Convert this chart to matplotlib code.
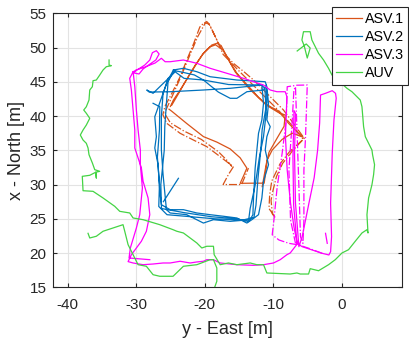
import numpy as np
import matplotlib.pyplot as plt

plt.rcParams['font.family'] = ['Liberation Sans', 'DejaVu Sans']
plt.rcParams['axes.unicode_minus'] = False

nan = np.nan

# trajectories as (east, north) in metres, NaN splits pieces

asv1_solid = [
    (-25.0, 41.4), (-24.56, 42.34), (-23.58, 43.8), (-22.37, 45.74), (-21.14, 47.7), (-20.18, 49.16),
    (-18.95, 50.37), (-18.22, 50.62), (-17.6, 50.3), (-17.0, 49.16), (-16.2, 47.7), (-15.29, 46.24),
    (-14.2, 45.0), (-13.1, 43.8), (-12.1, 42.7), (-11.15, 41.86), (-10.3, 41.3), (-9.44, 40.88),
    (-8.5, 39.9), (-7.75, 38.94), (-6.6, 37.8), (-5.6, 36.9), (-7.2, 37.5), (-8.67, 36.6),
    (-10.13, 35.04), (-10.86, 33.58), (-11.11, 31.64), (-11.3, 30.2), (-12.9, 30.2), (-14.81, 30.18),
    (-14.3, 31.3), (-13.83, 32.4), (-14.81, 33.9), (-16.27, 35.2), (-18.22, 36.2), (-20.18, 37.0),
    (-22.6, 38.9), (-24.8, 40.7), (-25.2, 41.0),
    (nan, nan),
    (-24.8, 41.6), (-23.8, 43.3), (-22.6, 45.4), (-21.4, 47.4), (-20.3, 49.0), (-19.2, 50.1),
    (-18.4, 50.4), (-17.3, 49.6), (-16.4, 48.0), (-15.5, 46.4), (-13.4, 43.9), (-11.0, 41.6),
    (-9.2, 40.5), (-8.23, 40.15), (-8.4, 38.5), (-9.4, 36.8), (-10.6, 34.7), (-11.0, 33.0),
    (-11.59, 29.69),
]

asv1_dashed = [
    (-9.7, 25.2), (-10.1, 25.7), (-10.3, 27.7), (-10.0, 29.2), (-9.5, 31.2), (-8.6, 33.1),
    (-7.1, 35.0), (-5.45, 36.75), (-7.0, 38.9), (-8.5, 40.9), (-9.9, 42.3), (-11.4, 43.8),
    (-12.9, 45.3), (-14.3, 46.5), (-15.8, 47.7), (-16.75, 48.7), (-17.7, 50.1), (-18.7, 52.1),
    (-19.4, 53.5), (-19.7, 53.8), (-20.3, 53.4), (-20.7, 53.0), (-21.6, 50.6), (-22.6, 48.2),
    (-23.6, 45.7), (-24.8, 43.3), (-25.8, 41.4), (-26.1, 40.2), (-25.53, 38.94), (-23.58, 37.48),
    (-21.64, 36.5), (-19.68, 35.53), (-17.73, 34.07), (-16.6, 33.2), (-15.8, 32.6), (-16.5, 31.5),
    (-17.3, 30.0), (-15.5, 30.0), (-14.6, 30.0), (-13.6, 32.4),
    (nan, nan),
    (-9.9, 25.5), (-10.6, 26.5), (-10.5, 28.5), (-10.2, 30.5), (-9.0, 33.0), (-7.6, 34.8),
    (-5.6, 36.6), (-7.3, 38.7), (-9.0, 40.6), (-12.0, 43.6), (-15.0, 46.6), (-17.3, 49.0),
    (-18.4, 51.5), (-19.3, 53.4), (-19.9, 53.6), (-21.0, 51.6), (-22.2, 48.8), (-23.4, 45.9),
    (-24.6, 43.2), (-25.6, 41.0), (-25.8, 40.3), (-25.0, 39.0), (-23.0, 37.8), (-20.5, 36.6),
    (-18.0, 34.8), (-16.8, 33.6), (-16.0, 32.6),
]

asv2 = [
    (-24.56, 46.72), (-23.1, 46.97), (-21.14, 46.47), (-19.2, 45.74), (-15.29, 45.26), (-11.15, 45.01),
    (-10.91, 44.28), (-10.67, 41.86), (-10.91, 39.43), (-10.42, 38.45), (-10.91, 36.99), (-11.15, 35.04),
    (-10.67, 32.9), (-11.4, 30.47), (-11.64, 28.04), (-12.13, 25.6), (-13.1, 24.87), (-13.83, 24.38),
    (-15.29, 25.12), (-17.25, 25.37), (-19.2, 25.6), (-21.14, 25.85), (-23.1, 26.33), (-25.04, 26.33),
    (-26.32, 27.06), (-26.55, 29.01), (-26.8, 32.9), (-27.28, 35.34), (-27.05, 36.99), (-27.28, 39.9),
    (-26.07, 43.32), (-25.34, 45.26), (-24.56, 46.72),
    (-24.3, 46.6), (-23.58, 46.47), (-21.5, 46.0), (-20.18, 45.26), (-16.5, 44.6), (-11.64, 44.53),
    (-11.4, 41.86), (-11.64, 39.43), (-12.13, 37.48), (-12.37, 35.04), (-12.62, 32.41), (-12.86, 28.04),
    (-12.95, 25.6), (-13.35, 24.87), (-16.27, 24.63), (-18.71, 24.87), (-20.18, 24.38), (-22.61, 25.6),
    (-25.04, 25.85), (-25.58, 26.33), (-26.07, 31.44), (-26.32, 35.04), (-26.32, 39.9), (-26.07, 43.32),
    (-25.34, 45.5), (-24.4, 46.4),
    (-25.04, 45.74), (-26.55, 44.28), (-27.53, 43.32), (-28.45, 43.8), (-28.1, 43.5), (-25.04, 43.55),
    (-20.18, 43.8), (-16.27, 44.05), (-11.64, 44.53), (-11.2, 44.0), (-11.0, 40.5), (-11.4, 37.0),
    (-12.0, 34.0), (-12.6, 30.0), (-13.35, 26.5), (-13.6, 24.6), (-15.3, 25.0), (-19.0, 25.3),
    (-23.0, 25.9), (-26.3, 26.5), (-26.4, 30.0), (-25.9, 35.0), (-25.82, 38.45), (-25.58, 41.86),
    (-25.34, 45.01), (-24.5, 46.6),
    (-23.0, 45.5), (-20.18, 45.26), (-18.0, 43.5), (-16.27, 42.59), (-15.29, 42.59), (-13.83, 43.55),
    (-11.4, 43.8), (-11.0, 44.5), (-10.9, 42.0), (-11.6, 38.0), (-11.8, 35.0), (-12.2, 31.0),
    (-12.5, 27.0), (-12.8, 25.2), (-14.5, 24.8), (-18.5, 25.0), (-22.0, 25.3), (-25.5, 25.6),
    (-26.7, 26.8), (-26.6, 30.0), (-26.9, 34.0), (-26.6, 38.0), (-26.55, 41.36), (-27.53, 41.86),
    (nan, nan),
    (-26.02, 27.5), (-23.83, 30.91),
]

asv3_solid = [
    (-28.01, 19.03), (-31.04, 19.28), (-30.85, 20.74), (-29.97, 23.66), (-29.48, 25.6), (-29.09, 29.5),
    (-29.39, 32.9), (-29.39, 35.04), (-29.72, 37.96), (-29.97, 40.88), (-30.2, 44.28), (-30.45, 46.47),
    (-29.72, 46.82), (-28.74, 47.45), (-28.01, 48.18), (-27.63, 49.25), (-27.05, 49.54), (-26.65, 49.06),
    (-27.13, 48.18), (-27.97, 47.6), (-28.99, 46.87), (-29.58, 46.14), (-30.31, 46.28), (-30.01, 46.72),
    (-28.7, 47.16), (-27.24, 47.74), (-26.32, 48.43), (-25.77, 47.93),
    (-25.04, 47.93), (-23.1, 48.18), (-21.14, 47.7), (-19.2, 46.97), (-16.75, 46.24), (-14.33, 45.51),
    (-12.87, 45.01), (-11.4, 44.53), (-10.42, 43.8), (-9.44, 43.55), (-8.23, 43.55), (-7.98, 42.83),
    (-8.2, 37.0), (-7.94, 32.1), (-7.45, 27.26), (-6.96, 23.85), (-6.48, 21.4),
    (-5.75, 20.93), (-4.29, 20.45), (-2.83, 19.96), (-1.85, 19.72), (-1.6, 20.2),
    (-1.46, 22.39), (-1.6, 27.26), (-1.36, 34.56), (-1.11, 39.42), (-0.78, 42.59), (-0.88, 43.32),
    (-1.36, 43.7), (-2.34, 43.32), (-3.07, 43.07),
    (-3.2, 39.0), (-3.5, 35.0), (-4.0, 31.0), (-4.77, 27.26), (-5.75, 22.39), (-6.23, 20.93),
    (-6.73, 27.26), (-6.87, 34.56), (-6.73, 40.4), (-6.95, 40.8), (-7.1, 34.0), (-7.0, 27.0),
    (-6.5, 21.3), (-7.5, 20.01), (-7.98, 19.76), (-8.96, 19.03), (-9.94, 18.55), (-11.4, 18.3),
    (-12.87, 18.21), (-15.29, 18.3), (-17.73, 18.55), (-18.71, 19.03), (-19.68, 19.03), (-20.18, 18.8),
    (-21.14, 18.7), (-22.12, 18.55), (-23.58, 18.8), (-25.04, 18.55), (-26.07, 18.55), (-27.53, 18.4),
    (-28.99, 18.3), (-30.45, 18.55), (-31.18, 18.75),
    (-30.7, 19.76), (-29.24, 21.72), (-28.51, 23.18), (-28.01, 25.6), (-28.26, 28.04), (-28.99, 30.47),
    (-29.24, 32.42), (-30.2, 35.34), (-30.2, 37.96), (-30.45, 40.88), (-30.7, 43.8), (-30.94, 45.51),
    (-30.45, 46.47),
    (nan, nan),
    (-2.34, 22.88), (-2.09, 21.42),
]

asv3_dashed = [
    (-2.83, 19.96), (-4.77, 20.69), (-6.23, 21.18), (-7.69, 21.42), (-9.15, 21.91), (-10.13, 22.66),
    (-9.88, 24.82), (-9.4, 29.69), (-8.67, 34.61), (-8.08, 39.42), (-7.94, 44.28), (-6.5, 44.5),
    (-5.01, 44.53), (-5.26, 36.99), (-5.5, 32.12), (-5.5, 24.82), (-5.64, 21.42), (-6.0, 22.39),
    (-6.23, 29.69), (-6.48, 36.99), (-6.73, 44.28), (-6.96, 43.8), (-7.2, 39.42), (-7.69, 32.12),
    (-7.45, 24.82), (-6.73, 21.42),
]

auv = [
    (-33.96, 48.18), (-33.96, 47.45), (-33.63, 47.35), (-34.36, 47.2), (-34.84, 46.72), (-35.32, 45.99),
    (-35.82, 45.26), (-36.3, 45.16), (-36.4, 44.28), (-36.78, 43.8), (-36.89, 42.34), (-37.28, 41.36),
    (-37.66, 40.88), (-37.28, 40.4), (-36.78, 39.67), (-37.28, 38.69), (-37.76, 37.96), (-38.16, 37.23),
    (-37.76, 36.5), (-37.28, 36.02), (-37.03, 35.34), (-36.89, 34.36), (-36.4, 33.15), (-36.05, 32.17),
    (-35.32, 31.93), (-35.9, 31.8), (-35.82, 30.96), (-35.9, 31.8), (-36.78, 31.35), (-37.87, 31.2),
    (-37.76, 29.1), (-36.3, 29.01), (-34.84, 28.04), (-33.13, 26.82), (-32.4, 26.09), (-30.94, 25.85),
    (-30.45, 25.12), (-28.99, 24.87), (-26.55, 24.14), (-24.61, 23.41), (-24.06, 23.18), (-23.1, 22.93),
    (-22.12, 22.2), (-21.14, 21.47), (-20.41, 20.74), (-19.68, 20.99), (-18.71, 20.99), (-18.61, 19.76),
    (-17.73, 18.3), (-16.52, 18.55), (-15.29, 18.3), (-13.35, 18.55), (-12.37, 18.3), (-11.4, 18.3),
    (-10.91, 17.09), (-7.5, 16.94), (-6.52, 17.09), (-6.04, 16.94), (-4.82, 16.94), (-4.58, 17.72),
    (-3.36, 17.42), (-1.9, 18.3), (-0.92, 19.03), (0.06, 20.01), (1.02, 20.49), (2.0, 21.72),
    (2.98, 22.93), (3.71, 23.41), (3.86, 22.93), (3.71, 25.6), (3.95, 28.04), (4.2, 29.01),
    (4.44, 29.98), (4.68, 31.44), (4.82, 32.9), (4.53, 34.36), (4.44, 35.04), (3.47, 36.99),
    (3.22, 38.45), (2.98, 41.36), (2.73, 42.34), (1.52, 43.55), (0.79, 44.05), (-1.4, 45.99),
    (-1.9, 46.97), (-2.63, 48.18), (-3.36, 49.16), (-3.84, 50.12), (-4.33, 51.1), (-4.58, 52.31),
    (-5.56, 52.31), (-5.79, 51.1), (-5.45, 50.23), (-5.01, 48.47), (-4.58, 49.93), (-5.16, 50.52),
    (-6.48, 49.5),
    (nan, nan),
    (-37.03, 22.88), (-36.78, 22.2), (-35.82, 22.45), (-34.84, 23.18), (-33.38, 23.66), (-31.92, 24.14),
    (-31.67, 23.18), (-31.18, 21.22), (-30.45, 19.76), (-29.72, 18.3), (-28.51, 18.07), (-27.53, 16.84),
    (-26.55, 16.61), (-24.61, 16.61), (-23.1, 18.07), (-21.14, 18.3), (-19.2, 19.03), (-18.71, 19.03),
    (-18.22, 17.82), (-18.22, 15.88), (-18.71, 14.5),
]

c_asv1 = '#D95319'
c_asv2 = '#0072BD'
c_asv3 = '#FF00FF'
c_auv = '#44D444'

fig = plt.figure(figsize=(4.09, 3.39), dpi=100)
ax = fig.add_axes([0.1304, 0.1525, 0.852, 0.8083])

a1 = np.array(asv1_solid)
a1d = np.array(asv1_dashed)
a2 = np.array(asv2)
a3 = np.array(asv3_solid)
a3d = np.array(asv3_dashed)
au = np.array(auv)

lw = 0.9
ax.plot(a1d[:, 0], a1d[:, 1], color=c_asv1, lw=lw, ls='-.')
ax.plot(a3d[:, 0], a3d[:, 1], color=c_asv3, lw=lw, ls='-.')
ax.plot(a1[:, 0], a1[:, 1], color=c_asv1, lw=lw, label='ASV.1')
ax.plot(a2[:, 0], a2[:, 1], color=c_asv2, lw=lw, label='ASV.2')
ax.plot(a3[:, 0], a3[:, 1], color=c_asv3, lw=lw, label='ASV.3')
ax.plot(au[:, 0], au[:, 1], color=c_auv, lw=lw, label='AUV')

ax.set_xlim(-42.1, 8.8)
ax.set_ylim(15, 55)
ax.set_xticks([-40, -30, -20, -10, 0])
ax.set_yticks([15, 20, 25, 30, 35, 40, 45, 50, 55])
ax.grid(True, color='#E3E3E3', lw=0.8)
ax.set_axisbelow(True)
ax.tick_params(direction='in', top=True, right=True, labelsize=11, colors='#262626', length=3)
ax.tick_params(axis='x', pad=8)
ax.tick_params(axis='y', pad=5)
for s in ax.spines.values():
    s.set_color('#262626')
    s.set_linewidth(0.8)

ax.set_xlabel('y - East [m]', fontsize=13, color='#262626', labelpad=6)
ax.set_ylabel('x - North [m]', fontsize=13, color='#262626', labelpad=3)

leg = ax.legend(loc='upper left', bbox_to_anchor=(331.7 / 409, 1 - 7.3 / 339),
                bbox_transform=fig.transFigure, fontsize=10.3, fancybox=False,
                edgecolor='#262626', framealpha=1, borderpad=0.3, labelspacing=0.3,
                handlelength=1.8, handletextpad=0.2, borderaxespad=0)
leg.get_frame().set_linewidth(0.8)

fig.savefig('out.png', dpi=100)
